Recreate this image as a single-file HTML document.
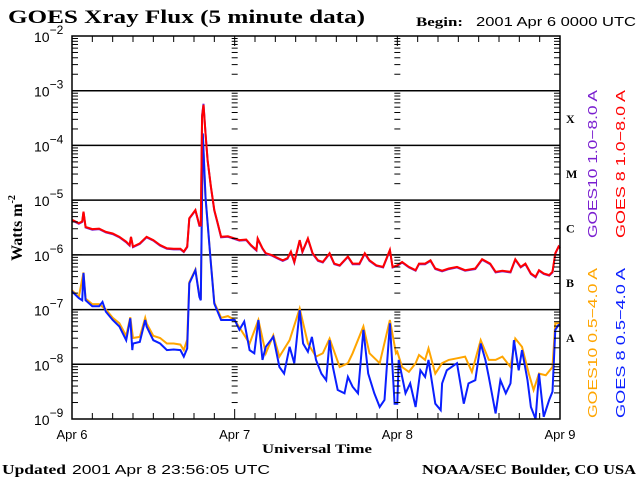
<!DOCTYPE html>
<html><head><meta charset="utf-8"><style>
html,body{margin:0;padding:0;background:#fff;}
svg{display:block;}
.serif{font-family:"Liberation Serif",serif;font-weight:bold;}
.sans{font-family:"Liberation Sans",sans-serif;}
</style></head><body>
<svg id="chart" width="640" height="480" viewBox="0 0 640 480" xmlns="http://www.w3.org/2000/svg">
<text class="serif" x="8" y="23" font-size="19" textLength="357" lengthAdjust="spacingAndGlyphs">GOES Xray Flux (5 minute data)</text>
<text class="serif" x="416" y="26" font-size="13" textLength="47" lengthAdjust="spacingAndGlyphs">Begin:</text>
<text class="sans" x="476" y="26" font-size="13" textLength="160" lengthAdjust="spacingAndGlyphs">2001 Apr 6 0000 UTC</text>
<text class="serif" font-size="16" transform="translate(22,228) rotate(-90)" text-anchor="middle">Watts m<tspan font-size="10" dy="-7">-2</tspan></text>
<text class="serif" x="262" y="453" font-size="13" textLength="110" lengthAdjust="spacingAndGlyphs">Universal Time</text>
<text class="serif" x="2" y="474" font-size="14" textLength="64" lengthAdjust="spacingAndGlyphs">Updated</text>
<text class="sans" x="72" y="474" font-size="13" textLength="198" lengthAdjust="spacingAndGlyphs">2001 Apr  8 23:56:05 UTC</text>
<text class="serif" x="422" y="474" font-size="14" textLength="214" lengthAdjust="spacingAndGlyphs">NOAA/SEC Boulder, CO USA</text>
<g id="legend" font-family="Liberation Sans, sans-serif" font-size="13">
<text fill="#7a1fd0" transform="translate(597,238) rotate(-90)" textLength="148" lengthAdjust="spacingAndGlyphs">GOES10 1.0−8.0 A</text>
<text fill="#ff0000" transform="translate(625,238) rotate(-90)" textLength="148" lengthAdjust="spacingAndGlyphs">GOES 8 1.0−8.0 A</text>
<text fill="#ffa500" transform="translate(597,418) rotate(-90)" textLength="150" lengthAdjust="spacingAndGlyphs">GOES10 0.5−4.0 A</text>
<text fill="#0a1fff" transform="translate(625,418) rotate(-90)" textLength="150" lengthAdjust="spacingAndGlyphs">GOES 8 0.5−4.0 A</text>
</g>
<g id="grid"></g>
<g id="series"></g>
<g id="axes"></g>
</svg>
<script>
// Flare classes, tick labels
const dayLabels = ["Apr 6","Apr 7","Apr 8","Apr 9"];
const decades = [-2,-3,-4,-5,-6,-7,-8,-9];
const classLabels = ["X","M","C","B","A"];
// series: hours since Apr 6 00:00 UT, log10(W m^-2)
const goes8LongHours = [0,1,1.5,1.7,2,3,4,5,6,7,8,8.5,8.7,9,10,11,12,13,14,15,16,16.5,17,17.3,18.2,18.8,19,19.2,19.4,19.7,20,20.5,21,21.5,22,23,24,24.7,25.7,26.4,27.2,27.4,28.1,28.6,29.4,30.4,31.1,31.8,32.3,32.8,33.6,34.0,34.8,35.5,36.3,37.0,38.0,38.7,39.5,40.7,41.4,42.4,43.2,43.9,44.9,45.9,46.9,47.3,48,48.7,49.7,50.7,51.2,52.1,52.9,53.6,54.6,55.6,56.8,58.0,59.5,60.5,61.7,62.5,63.5,64.7,65.4,66.2,66.9,67.7,68.4,68.9,69.6,70.4,70.9,71.3,71.8,72];
const goes8LongLog = [-5.36,-5.42,-5.39,-5.21,-5.49,-5.53,-5.52,-5.58,-5.61,-5.67,-5.76,-5.82,-5.67,-5.85,-5.79,-5.67,-5.73,-5.82,-5.88,-5.89,-5.89,-5.94,-5.85,-5.33,-5.18,-5.46,-5.46,-3.47,-3.26,-3.78,-4.27,-4.75,-5.18,-5.42,-5.67,-5.66,-5.70,-5.73,-5.72,-5.82,-5.91,-5.70,-5.88,-5.97,-6.00,-6.06,-6.10,-6.06,-5.94,-6.13,-5.73,-5.94,-5.70,-5.97,-6.10,-6.13,-5.97,-6.16,-6.19,-6.03,-6.16,-6.16,-5.97,-6.10,-6.19,-6.22,-5.91,-6.22,-6.19,-6.13,-6.22,-6.28,-6.16,-6.16,-6.10,-6.25,-6.29,-6.25,-6.22,-6.28,-6.25,-6.08,-6.16,-6.31,-6.29,-6.31,-6.08,-6.22,-6.16,-6.34,-6.40,-6.28,-6.34,-6.37,-6.31,-5.97,-5.85,-5.88];
const goes10LongHours = goes8LongHours;
const goes10LongLog = [-5.37,-5.43,-5.40,-5.22,-5.50,-5.54,-5.53,-5.59,-5.62,-5.68,-5.77,-5.83,-5.68,-5.86,-5.80,-5.68,-5.74,-5.83,-5.89,-5.90,-5.90,-5.95,-5.86,-5.34,-5.19,-5.47,-5.47,-3.45,-3.24,-3.77,-4.27,-4.76,-5.19,-5.43,-5.68,-5.67,-5.71,-5.74,-5.73,-5.83,-5.92,-5.71,-5.89,-5.98,-6.01,-6.07,-6.11,-6.07,-5.95,-6.14,-5.74,-5.95,-5.71,-5.98,-6.11,-6.14,-5.98,-6.17,-6.20,-6.04,-6.17,-6.17,-5.98,-6.11,-6.20,-6.23,-5.92,-6.23,-6.20,-6.14,-6.23,-6.29,-6.17,-6.17,-6.11,-6.26,-6.30,-6.26,-6.23,-6.29,-6.26,-6.09,-6.17,-6.32,-6.30,-6.32,-6.09,-6.23,-6.17,-6.35,-6.41,-6.29,-6.35,-6.38,-6.32,-5.98,-5.85,-5.88];
const goes8ShortHours = [0,1,1.5,1.7,2,3,4,4.5,5,6,7,8,8.6,8.9,9,10,10.8,11,12,13,14,15,16,16.5,17,17.3,18.2,18.8,19,19.3,19.7,20,20.5,21,22,23,24,24.7,25.4,26.2,26.9,27.5,28.1,28.6,29.7,30.6,31.3,32.1,32.8,33.6,34.1,34.8,35.4,36,36.8,37.5,38,38.5,39.2,40.2,40.7,41.4,42.2,43,43.7,44.6,45.4,46.1,46.9,47.6,48,48.2,49.2,49.9,50.7,51.4,52.1,52.6,53.6,54.4,54.6,55.3,56.8,57.8,58.5,59.5,60.3,61,61.5,62.5,63.2,64,64.7,65.2,65.9,66.4,67.2,67.7,68.4,68.9,69.6,70.4,70.9,71.3,71.8,72];
const goes8ShortLog = [-6.67,-6.79,-6.83,-6.33,-6.83,-6.94,-6.94,-6.86,-7.04,-7.19,-7.31,-7.56,-7.16,-7.74,-7.62,-7.59,-7.19,-7.31,-7.56,-7.62,-7.74,-7.73,-7.74,-7.86,-7.71,-6.52,-6.28,-6.77,-6.83,-3.78,-4.94,-5.42,-6.16,-6.89,-7.19,-7.19,-7.19,-7.37,-7.22,-7.74,-7.80,-7.19,-7.92,-7.68,-7.50,-8.05,-8.17,-7.68,-7.98,-7.01,-7.62,-7.77,-7.50,-7.92,-8.17,-8.29,-7.56,-8.05,-8.47,-8.53,-8.23,-8.41,-8.53,-7.37,-8.17,-8.53,-8.78,-8.65,-7.25,-8.72,-8.72,-7.92,-8.53,-8.35,-8.78,-8.11,-8.23,-7.92,-8.72,-8.84,-8.35,-8.11,-7.98,-8.72,-8.35,-8.29,-7.62,-7.92,-8.23,-8.90,-8.29,-8.53,-8.35,-7.56,-8.11,-7.74,-8.29,-8.78,-9.02,-8.17,-8.96,-8.65,-8.50,-7.37,-7.28,-7.28];
const goes10ShortHours = [0,1,1.7,2,3,4,5,6,7,8,8.6,9,10,10.8,11,12,13,14,15,16,16.5,17,17.3,18.2,18.8,19,19.3,19.7,20,20.5,21,22,23,24,26.2,27.5,28.6,29.7,30.6,32.1,33.6,34.8,36,37,38,39.5,40.7,41.4,43,43.9,45.4,46.9,47.8,48,48.7,49.7,50.7,51.2,52.1,52.6,53.6,54.6,55.6,56.8,58,59,60.3,61.5,62.5,63.5,64.7,65.4,66.4,67.4,68.1,68.9,69.9,70.9,71.3,72];
const goes10ShortLog = [-6.65,-6.77,-6.32,-6.80,-6.90,-6.90,-7.00,-7.15,-7.25,-7.48,-7.14,-7.52,-7.50,-7.15,-7.25,-7.48,-7.52,-7.62,-7.62,-7.64,-7.74,-7.55,-6.50,-6.27,-6.75,-6.80,-3.80,-4.95,-5.42,-6.15,-6.87,-7.15,-7.12,-7.19,-7.62,-7.19,-7.80,-7.47,-7.86,-7.56,-6.98,-7.62,-7.86,-7.80,-7.53,-8.05,-7.98,-7.80,-7.31,-7.80,-7.98,-7.19,-7.80,-7.77,-8.05,-8.14,-7.98,-7.83,-7.92,-7.71,-8.17,-7.98,-7.92,-7.89,-7.86,-8.14,-7.56,-7.92,-7.92,-7.86,-8.05,-7.53,-7.68,-8.17,-8.47,-8.17,-8.20,-8.05,-7.25,-7.25];

const NS="http://www.w3.org/2000/svg";
const L=72,R=560,T=36,B=419;
const logMax=-2,logMin=-9,hMax=72;
function xs(h){return L+(h/hMax)*(R-L);}
function ys(v){v=Math.max(logMin,Math.min(logMax,v));return T+(logMax-v)/(logMax-logMin)*(B-T);}
function mk(tag,parent,attrs){const e=document.createElementNS(NS,tag);for(const k in attrs)e.setAttribute(k,attrs[k]);parent.appendChild(e);return e;}
const grid=document.getElementById('grid'),axes=document.getElementById('axes'),series=document.getElementById('series');

decades.forEach(d=>{
  if(d===logMax||d===logMin)return;
  const ln=mk('line',grid,{x1:L,x2:R,y1:ys(d),y2:ys(d),stroke:'#000','stroke-width':1.5});
  
  
});
const tickCols=[[L,1],[R,-1],[xs(24),0],[xs(48),0]];
decades.forEach(d=>{
  if(d===logMin)return;
  for(let m=1;m<=9;m++){
    const y=ys(d-1+Math.log10(m));
    const len=(m===1)?10:6;
    tickCols.forEach(([x,dir])=>{
      let x1,x2;
      if(dir===1){x1=x;x2=x+len;}else if(dir===-1){x1=x-len;x2=x;}else{x1=x-3;x2=x+3;}
      const t=mk('line',axes,{x1:x1,x2:x2,y1:y,y2:y,stroke:'#000','stroke-width':1});
      
      
    });
  }
});
for(let h=0;h<=hMax;h+=3){
  const len=(h%24===0)?10:6;
  const x=xs(h);
  const t1=mk('line',axes,{x1:x,x2:x,y1:B,y2:B-len,stroke:'#000','stroke-width':1});
  
  
  const t2=mk('line',axes,{x1:x,x2:x,y1:T,y2:T+len,stroke:'#000','stroke-width':1});
  
  
}
const fr=mk('rect',axes,{x:L,y:T,width:R-L,height:B-T,fill:'none',stroke:'#000','stroke-width':1.5});


decades.forEach(d=>{
  const t=mk('text',axes,{x:34,y:ys(d)+6,'font-family':'Liberation Sans, sans-serif','font-size':14});
  
  
  t.textContent='10';
  const s=mk('tspan',t,{'font-size':12,dy:-8});
  s.textContent='−'+(-d);
});
dayLabels.forEach((lab,i)=>{
  const t=mk('text',axes,{x:xs(i*24),y:439,'text-anchor':'middle','font-family':'Liberation Sans, sans-serif','font-size':13});
  
  
  t.textContent=lab;
});
classLabels.forEach((c,i)=>{
  const t=mk('text',axes,{x:566,y:ys(-3.5-i)+5,'font-family':'Liberation Serif, serif','font-weight':'bold','font-size':12});
  
  
  t.textContent=c;
});
function draw(hours,vals,color,name){
  let d='';
  for(let i=0;i<hours.length;i++){d+=(i?'L':'M')+xs(hours[i]).toFixed(1)+','+ys(vals[i]).toFixed(1);}
  const p=mk('path',series,{d:d,fill:'none',stroke:color,'stroke-width':2,'stroke-linejoin':'miter'});
  
  
}
draw(goes10ShortHours,goes10ShortLog,'#ffa500','goes10-short-line');
draw(goes8ShortHours,goes8ShortLog,'#0a1fff','goes8-short-line');
draw(goes10LongHours,goes10LongLog,'#7a1fd0','goes10-long-line');
draw(goes8LongHours,goes8LongLog,'#ff0000','goes8-long-line');
</script>
</body></html>
